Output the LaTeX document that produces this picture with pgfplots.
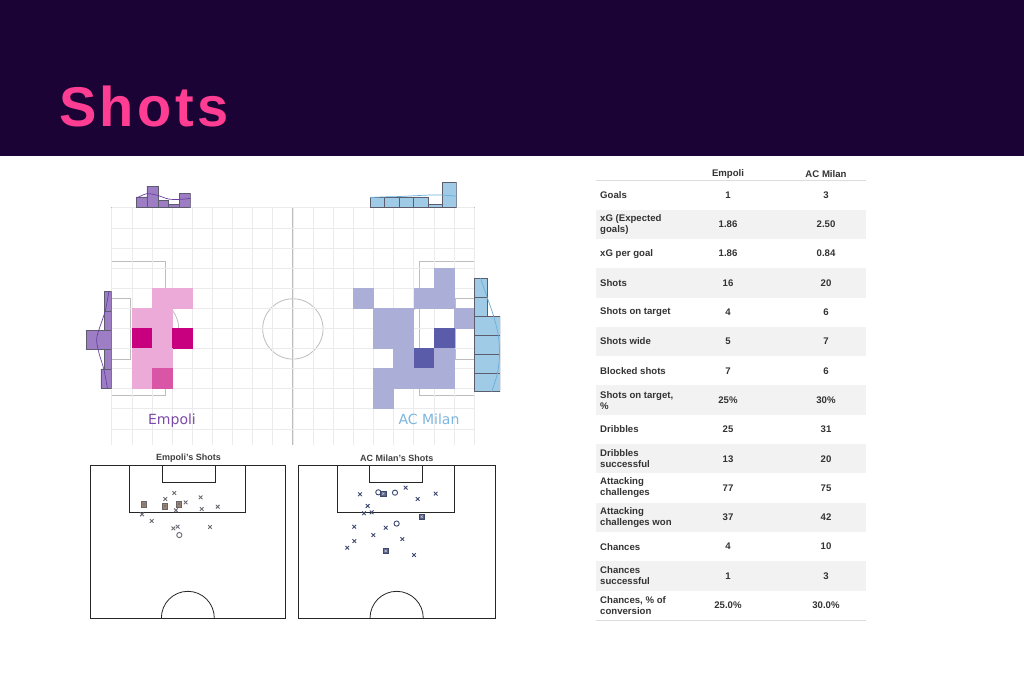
\documentclass[border=0pt]{standalone}
\usepackage{pgfplots}
\usepackage{pgfplotstable}
\pgfplotsset{compat=1.18}
\usepackage{fontspec}
\setmainfont{Liberation Sans}
\newfontfamily\dejavu{DejaVu Sans}
\newfontfamily\titlefont[LetterSpace=6]{Liberation Sans}
\definecolor{banner}{HTML}{1C0336}
\definecolor{titlepink}{HTML}{FF3D93}
\definecolor{empL}{HTML}{EBAAD7}
\definecolor{empM}{HTML}{D955A6}
\definecolor{empD}{HTML}{C8007F}
\definecolor{milL}{HTML}{ABAED7}
\definecolor{milD}{HTML}{5A5BA9}
\definecolor{empHist}{HTML}{9D7DC3}
\definecolor{empLine}{HTML}{6B40A3}
\definecolor{milHist}{HTML}{A0CBE7}
\definecolor{milLine}{HTML}{6AAED8}
\definecolor{empText}{HTML}{7B4BA9}
\definecolor{milText}{HTML}{7DB6DF}
\definecolor{gridc}{HTML}{EBEBEB}
\definecolor{pitchc}{HTML}{BDBDBD}
\definecolor{histedge}{HTML}{5C5C6C}
\definecolor{tabtext}{HTML}{333333}
\definecolor{tabband}{HTML}{F2F2F2}
\definecolor{tabline}{HTML}{DDDDDD}
\definecolor{empShot}{HTML}{6E6875}
\definecolor{empSq}{HTML}{9C8272}
\definecolor{milShot}{HTML}{3D4870}
\definecolor{milSq}{HTML}{5D6485}

% heat-map cells: centre of cell (column+0.5, row+0.5), intensity class
\pgfplotstableread{
x y c
2.5 4.5 L
3.5 4.5 L
1.5 5.5 L
2.5 5.5 L
1.5 6.5 D
2.5 6.5 L
3.5 6.5 D
1.5 7.5 L
2.5 7.5 L
1.5 8.5 L
2.5 8.5 M
}\empheat
\pgfplotstableread{
x y c
16.5 3.5 L
12.5 4.5 L
15.5 4.5 L
16.5 4.5 L
13.5 5.5 L
14.5 5.5 L
17.5 5.5 L
13.5 6.5 L
14.5 6.5 L
16.5 6.5 D
14.5 7.5 L
15.5 7.5 D
16.5 7.5 L
13.5 8.5 L
14.5 8.5 L
15.5 8.5 L
16.5 8.5 L
13.5 9.5 L
}\milheat

\begin{document}
\begin{tikzpicture}
\useasboundingbox (0pt,0pt) rectangle (1024pt,-683pt);
\fill[white] (0pt,0pt) rectangle (1024pt,-683pt);
\fill[banner] (0pt,0pt) rectangle (1024pt,-156pt);
\node[anchor=base west, inner sep=0pt, text=titlepink, font=\titlefont\fontsize{56}{60}\selectfont\bfseries] at (59pt,-126.7pt) {Shots};

% ---------------- heat map pitch ----------------
\begin{axis}[at={(111.7pt,-207.7pt)}, anchor=north west, scale only axis,
  width=362.3pt, height=237.2pt, xmin=0, xmax=18, ymin=0, ymax=11.8, y dir=reverse,
  axis line style={draw=none}, major tick length=0pt, xtick={0,1,...,18}, ytick={0,1,...,11},
  xticklabels={}, yticklabels={}, grid=major, grid style={gridc, line width=0.5pt},
  axis on top, clip=false]
\addplot[scatter, only marks, scatter src=explicit symbolic, mark=square*, mark size=9.9pt,
  scatter/classes={L={mark=square*,draw=empL,fill=empL}, M={mark=square*,draw=empM,fill=empM}, D={mark=square*,draw=empD,fill=empD}}]
  table[x=x, y=y, meta=c]{\empheat};
\addplot[scatter, only marks, scatter src=explicit symbolic, mark=square*, mark size=9.9pt,
  scatter/classes={L={mark=square*,draw=milL,fill=milL}, D={mark=square*,draw=milD,fill=milD}}]
  table[x=x, y=y, meta=c]{\milheat};
\draw[pitchc, line width=0.8pt] (axis cs:0,11.8) -- (axis cs:0,0) -- (axis cs:18,0) -- (axis cs:18,11.8);
\draw[pitchc, line width=0.8pt] (axis cs:9,0) -- (axis cs:9,11.8);
\draw[pitchc, line width=0.8pt] (axis cs:0,2.67) -- (axis cs:2.69,2.67) -- (axis cs:2.69,9.33) -- (axis cs:0,9.33);
\draw[pitchc, line width=0.8pt] (axis cs:0,4.5) -- (axis cs:0.92,4.5) -- (axis cs:0.92,7.55) -- (axis cs:0,7.55);
\draw[pitchc, line width=0.8pt] (axis cs:18,2.67) -- (axis cs:15.31,2.67) -- (axis cs:15.31,9.33) -- (axis cs:18,9.33);
\draw[pitchc, line width=0.8pt] (axis cs:18,4.5) -- (axis cs:17.08,4.5) -- (axis cs:17.08,7.55) -- (axis cs:18,7.55);
\draw[pitchc, line width=0.8pt] (axis cs:9,6.03) circle[radius=1.5];
\fill[pitchc] (axis cs:9,6.03) circle[radius=0.05];
\begin{scope}
\clip (axis cs:2.69,0) rectangle (axis cs:6,12);
\draw[pitchc, line width=0.8pt] (axis cs:1.83,6.03) circle[radius=1.5];
\end{scope}
\begin{scope}
\clip (axis cs:12,0) rectangle (axis cs:15.31,12);
\draw[pitchc, line width=0.8pt] (axis cs:16.17,6.03) circle[radius=1.5];
\end{scope}
\end{axis}

% ---------------- marginal histograms ----------------
\begin{axis}[at={(136pt,-207.7pt)}, anchor=south west, scale only axis, width=54.5pt, height=36pt,
  xmin=0, xmax=5, ymin=0, ymax=10, hide axis]
\addplot[ybar interval, fill=empHist, draw=histedge, line width=0.6pt] coordinates {(0,3) (1,6) (2,2) (3,1) (4,4) (5,4)};
\addplot[smooth, empLine, line width=0.7pt] coordinates {(0,2.6) (1,3.9) (2,3.4) (3,2.4) (4,2.3) (5,2.6)};
\end{axis}
\begin{axis}[at={(370pt,-207.7pt)}, anchor=south west, scale only axis, width=86.7pt, height=36pt,
  xmin=0, xmax=6, ymin=0, ymax=10, hide axis]
\addplot[ybar interval, fill=milHist, draw=histedge, line width=0.6pt] coordinates {(0,3) (1,3) (2,3) (3,3) (4,1) (5,7) (6,7)};
\addplot[smooth, milLine, line width=0.7pt] coordinates {(0,2.8) (1,3.0) (2,3.1) (3,3.3) (4,3.5) (5,3.5) (6,3.2)};
\end{axis}
\begin{axis}[at={(111.7pt,-291.7pt)}, anchor=north east, scale only axis, width=28.8pt, height=96.6pt,
  xmin=0, xmax=8, ymin=0, ymax=5, x dir=reverse, y dir=reverse, hide axis]
\addplot[xbar interval, fill=empHist, draw=histedge, line width=0.6pt] coordinates {(2,0) (2,1) (7,2) (2,3) (3,4) (3,5)};
\addplot[smooth, empLine, line width=0.7pt] coordinates {(0.8,0) (1.8,1) (3.6,2) (4.2,2.5) (3.5,3.2) (2.2,4) (1.2,5)};
\end{axis}
\begin{axis}[at={(474pt,-278.3pt)}, anchor=north west, scale only axis, width=26.2pt, height=113.4pt,
  xmin=0, xmax=4, ymin=0, ymax=6, y dir=reverse, hide axis]
\addplot[xbar interval, fill=milHist, draw=histedge, line width=0.6pt] coordinates {(2,0) (2,1) (4,2) (4,3) (4,4) (4,5) (4,6)};
\addplot[smooth, milLine, line width=0.7pt] coordinates {(1.0,0) (2.0,1) (3.0,2) (3.7,3) (3.9,4) (3.6,5) (2.7,6)};
\end{axis}

\node[anchor=base, inner sep=0pt, text=empText, font=\dejavu\fontsize{14}{16}\selectfont] at (172pt,-424pt) {Empoli};
\node[anchor=base, inner sep=0pt, text=milText, font=\dejavu\fontsize{14}{16}\selectfont] at (429pt,-424pt) {AC Milan};

% ---------------- shot maps ----------------
\node[inner sep=0pt, text=black!75, font=\fontsize{9}{10}\selectfont\bfseries] at (188.5pt,-458pt) {Empoli's Shots};
\node[inner sep=0pt, text=black!75, font=\fontsize{9}{10}\selectfont\bfseries] at (396.7pt,-458pt) {AC Milan's Shots};

\begin{axis}[at={(90pt,-465.7pt)}, anchor=north west, scale only axis, width=195.7pt, height=152.3pt,
  xmin=0, xmax=68, ymin=0, ymax=52.5, y dir=reverse, hide axis, clip=false]
\draw[black!85, line width=0.8pt] (axis cs:0,0) rectangle (axis cs:68,52.5);
\draw[black!85, line width=0.8pt] (axis cs:13.84,0) rectangle (axis cs:54.16,16.0);
\draw[black!85, line width=0.8pt] (axis cs:25.1,0) rectangle (axis cs:43.6,5.7);
\begin{scope}
\clip (axis cs:0,0) rectangle (axis cs:68,52.5);
\draw[black!85, line width=0.8pt] (axis cs:34,52.5) circle[radius=9.2];
\end{scope}
\addplot[only marks, mark=x, mark size=2.6pt, empShot, line width=0.9pt] coordinates {
(29.30,9.41) (26.18,11.48) (38.45,10.91) (33.24,12.63) (38.80,14.93) (44.36,14.13)
(29.88,15.39) (18.07,16.77) (21.43,19.07) (28.96,21.60) (30.46,21.02) (41.70,21.14)};
\addplot[only marks, mark=square*, mark size=2.8pt, mark options={fill=empSq, draw=black!60, line width=0.6pt}] coordinates {
(18.76,13.32) (26.06,13.90) (30.92,13.21)};
\addplot[only marks, mark=x, mark size=1.4pt, black!55, line width=0.5pt] coordinates {
(18.76,13.32) (26.06,13.90) (30.92,13.21)};
\addplot[only marks, mark=o, mark size=2.6pt, empShot, line width=0.9pt] coordinates {(31.04,23.90)};
\end{axis}

\begin{axis}[at={(298.3pt,-465.7pt)}, anchor=north west, scale only axis, width=196.7pt, height=152.3pt,
  xmin=0, xmax=68, ymin=0, ymax=52.5, y dir=reverse, hide axis, clip=false]
\draw[black!85, line width=0.8pt] (axis cs:0,0) rectangle (axis cs:68,52.5);
\draw[black!85, line width=0.8pt] (axis cs:13.6,0) rectangle (axis cs:54.0,16.0);
\draw[black!85, line width=0.8pt] (axis cs:24.6,0) rectangle (axis cs:43.0,5.7);
\begin{scope}
\clip (axis cs:0,0) rectangle (axis cs:68,52.5);
\draw[black!85, line width=0.8pt] (axis cs:34,52.5) circle[radius=9.2];
\end{scope}
\addplot[only marks, mark=x, mark size=2.6pt, milShot, line width=0.9pt] coordinates {
(21.32,9.86) (37.11,7.57) (41.26,11.47) (47.49,9.63) (23.97,13.88) (22.71,16.40) (25.36,16.06)
(19.36,21.04) (30.20,21.38) (25.93,23.91) (19.36,25.98) (35.96,25.29) (16.94,28.28) (40.00,30.80)};
\addplot[only marks, mark=square*, mark size=2.8pt, mark options={fill=milSq, draw=milShot, line width=0.6pt}] coordinates {
(29.39,9.63) (42.65,17.55) (30.20,29.36)};
\addplot[only marks, mark=x, mark size=1.4pt, white!70!milShot, line width=0.5pt] coordinates {
(29.39,9.63) (42.65,17.55) (30.20,29.36)};
\addplot[only marks, mark=o, mark size=2.6pt, milShot, line width=0.9pt] coordinates {(27.66,9.17) (33.43,9.29) (34.00,19.95)};
\end{axis}

% ---------------- stats table ----------------
\fill[tabband] (596pt,-209.65pt) rectangle (866pt,-238.95pt);
\fill[tabband] (596pt,-268.25pt) rectangle (866pt,-297.55pt);
\fill[tabband] (596pt,-326.85pt) rectangle (866pt,-356.15pt);
\fill[tabband] (596pt,-385.45pt) rectangle (866pt,-414.75pt);
\fill[tabband] (596pt,-444.05pt) rectangle (866pt,-473.35pt);
\fill[tabband] (596pt,-502.65pt) rectangle (866pt,-531.95pt);
\fill[tabband] (596pt,-561.25pt) rectangle (866pt,-590.55pt);
\draw[tabline, line width=1pt] (596pt,-180.5pt) -- (866pt,-180.5pt);
\draw[tabline, line width=0.8pt] (596pt,-619.9pt) -- (866pt,-619.9pt);
\begin{scope}[every node/.style={inner sep=0pt, text=tabtext, font=\fontsize{9.6}{11}\selectfont\bfseries}]
\node at (728pt,-174pt) {Empoli};
\node at (826pt,-174pt) {AC Milan};
\foreach \y/\lab/\a/\b in {
 195.0/{Goals}/1/3,
 224.3/{xG (Expected\\goals)}/1.86/2.50,
 253.6/{xG per goal}/1.86/0.84,
 282.9/{Shots}/16/20,
 312.2/{Shots on target}/4/6,
 341.5/{Shots wide}/5/7,
 370.8/{Blocked shots}/7/6,
 400.1/{Shots on target,\\\%}/25\%/30\%,
 429.4/{Dribbles}/25/31,
 458.7/{Dribbles\\successful}/13/20,
 488.0/{Attacking\\challenges}/77/75,
 517.3/{Attacking\\challenges won}/37/42,
 546.6/{Chances}/4/10,
 575.9/{Chances\\successful}/1/3,
 605.2/{Chances, \% of\\conversion}/25.0\%/30.0\%}{
 \node[anchor=west, align=left] at (600pt,-\y pt) {\lab};
 \node at (728pt,-\y pt) {\a};
 \node at (826pt,-\y pt) {\b};
}
\end{scope}
\end{tikzpicture}
\end{document}
